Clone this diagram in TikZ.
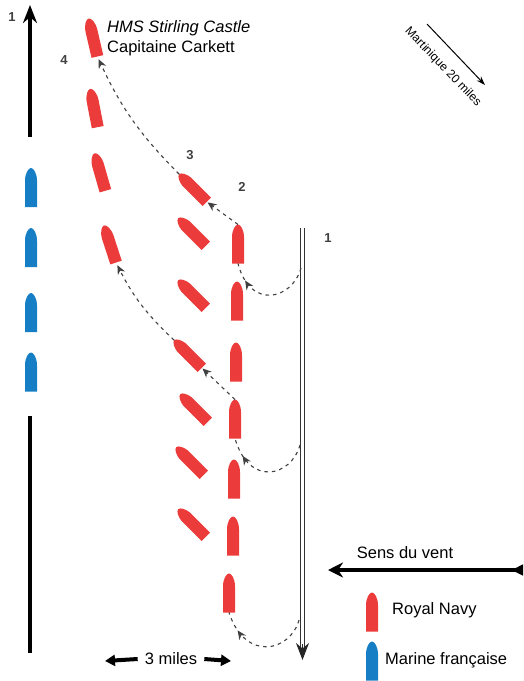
\documentclass[tikz,border=0pt]{standalone}
\usepackage{fontspec}
\setmainfont{Liberation Sans}
\usetikzlibrary{arrows.meta,decorations.markings}

\definecolor{navyred}{RGB}{236,59,59}
\definecolor{frenchblue}{RGB}{22,126,196}

\begin{document}
\begin{tikzpicture}[x=1pt,y=-1pt,
    ship/.pic={
      \fill[#1] (-\shiphalf,\shiplen) -- (-\shiphalf,-\shiplen+13)
        .. controls (-\shiphalf,-\shiplen+5) and (-2.5,-\shiplen) .. (0,-\shiplen)
        .. controls (2.5,-\shiplen) and (\shiphalf,-\shiplen+5) .. (\shiphalf,-\shiplen+13)
        -- (\shiphalf,\shiplen) -- cycle;
      \coordinate (-bow) at (0,-\shiplen);
      \coordinate (-stern) at (0,\shiplen);
    },
    track/.style={draw=black!75,line width=1.1pt,dash pattern=on 3.5pt off 4pt},
    towarrow/.style={-{Stealth[length=9pt,width=8pt]}},
    midarrow/.style={postaction={decorate},decoration={markings,
      mark=at position #1 with {\arrow{Stealth[length=9pt,width=8pt]}}}},
    num/.style={font=\fontsize{13}{13}\selectfont\bfseries,text=black!75},
    caption/.style={font=\fontsize{16.5}{20}\selectfont,inner sep=0}]
    \pgfmathsetmacro{\shiphalf}{6}   % half beam of a ship
    \pgfmathsetmacro{\shiplen}{19.5} % half length of a ship
    \useasboundingbox (0,0) rectangle (523,681);

    % French line and its heading
    \coordinate (headA) at (30,137);
    \coordinate (headB) at (30,5);
    \coordinate (lineA) at (30,416);
    \coordinate (lineB) at (30,653);
    \draw[line width=4pt,-{Stealth[length=18pt,width=14pt]}] (headA) -- (headB);
    \draw[line width=4pt] (lineA) -- (lineB);
    \foreach \y [count=\i] in {187.5,247.5,312.5,372}
      \pic (f\i) at (31,\y) {ship=frenchblue};

    % British ships
    \foreach \x/\y/\a [count=\i from 0] in {93/37.5/13,94/108/11,100/172/16,110/244/18}
      \pic[rotate=\a] (l\i) at (\x,\y) {ship=navyred};
    \foreach \x/\y [count=\i] in {193/188,192/232,192/294,188/354,194/408,190/461,192/523}
      \pic[rotate=45] (m\i) at (\x,\y) {ship=navyred};
    \foreach \x/\y [count=\i] in {238/244,237/301,236/362,235/419,234/479,233/536,229/593}
      \pic (r\i) at (\x,\y) {ship=navyred};

    % line of advance
    \coordinate (wtop) at (302.5,228);
    \coordinate (wbot) at (302.5,660);
    \draw[black!80,line width=0.8pt,double,double distance=3.4pt,shorten >=12pt] (wtop) -- (wbot);
    \draw[black!85,line width=1pt,-{Stealth[length=17pt,width=13pt]}] ([yshift=16pt]wbot) -- (wbot);
    \coordinate (turn1) at (301,268);
    \coordinate (turn2) at (300,445);
    \coordinate (turn3) at (299,620);

    % manoeuvres
    \draw[track,midarrow=0.8] (turn1) .. controls (292,300) and (250,310) .. (r1-stern);
    \draw[track,midarrow=0.8] (turn2) .. controls (291,477) and (249,487) .. (r4-stern);
    \draw[track,midarrow=0.8] (turn3) .. controls (290,652) and (245,662) .. (r7-stern);
    \draw[track,towarrow,shorten >=1pt] (r1-bow) -- (m1-stern);
    \draw[track,towarrow,shorten >=1pt] (r4-bow) -- (m4-stern);
    \draw[track,towarrow,shorten >=3pt] (m1-bow) to[bend left=10] (l0-stern);
    \draw[track,towarrow,shorten >=3pt] (m4-bow) to[bend left=10] (l3-stern);

    \node[num] (n1a) at (12,17) {1};
    \node[num] (n4) at (64,60) {4};
    \node[num] (n3) at (190,155) {3};
    \node[num] (n2) at (242,187) {2};
    \node[num] (n1b) at (328,238) {1};

    \node[caption,anchor=north west,align=left] (carkett) at (107,20.5)
      {\textit{HMS Stirling Castle}\\Capitaine Carkett};

    % bearing to Martinique
    \coordinate (martA) at (427,24);
    \coordinate (martB) at (485,85);
    \draw[line width=1pt,-{Stealth[length=9pt,width=6pt]}] (martA) -- (martB);
    \node[rotate=-46,inner sep=0,font=\fontsize{12}{12}\selectfont] (mart) at (443,67) {Martinique 20 miles};

    % wind
    \coordinate (windtail) at (523,570);
    \coordinate (windtip) at (328,570);
    \draw[line width=3.5pt,{Latex[reversed,length=14pt,width=12pt]}-{Stealth[length=15pt,width=15pt]}]
      (windtail) -- (windtip);
    \node[caption] (wind) at (405,553) {Sens du vent};

    % scale
    \node[caption,inner xsep=7pt] (scale) at (171,659) {3 miles};
    \coordinate (scaleL) at (105,661);
    \coordinate (scaleR) at (231,661);
    \draw[line width=4pt,-{Triangle[length=10pt,width=11pt]}] (scale.west) -- (scaleL);
    \draw[line width=4pt,-{Triangle[length=10pt,width=11pt]}] (scale.east) -- (scaleR);

    % key
    \pic (keyred) at (372,612) {ship=navyred};
    \pic (keyblue) at (372,661) {ship=frenchblue};
    \node[caption,anchor=west] (navy) at (392,610) {Royal Navy};
    \node[caption,anchor=west] (french) at (385,660) {Marine française};
\end{tikzpicture}
\end{document}
